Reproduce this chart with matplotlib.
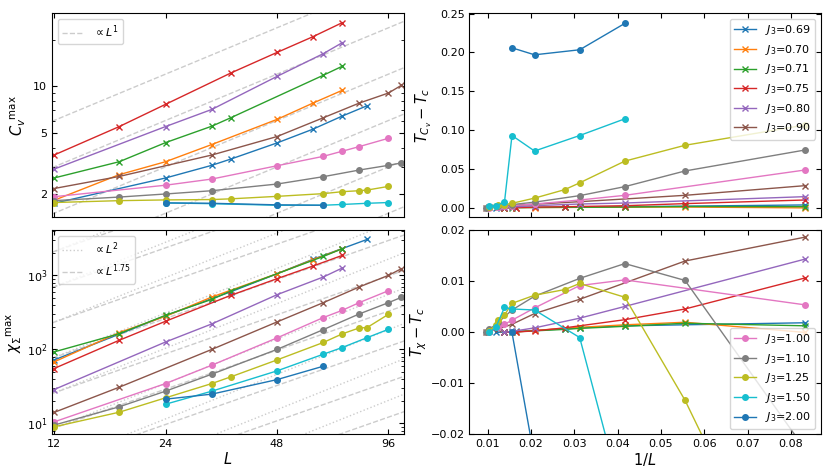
import numpy as np
import matplotlib
matplotlib.use('Agg')
import matplotlib.pyplot as plt
from matplotlib.ticker import NullLocator, FixedLocator, FixedFormatter

plt.rcParams['font.size'] = 8
plt.rcParams['mathtext.fontset'] = 'dejavusans'

# J3 couplings, colours and markers of each series
J3 = [0.69, 0.70, 0.71, 0.75, 0.80, 0.90, 1.00, 1.10, 1.25, 1.50, 2.00]
colors = ['C0', 'C1', 'C2', 'C3', 'C4', 'C5', 'C6', 'C7', 'C8', 'C9', 'C0']
markers = ['x'] * 6 + ['o'] * 5

# system sizes simulated for each J3
L_sizes = [
    [12, 24, 32, 36, 48, 60, 72, 84],
    [12, 18, 24, 32, 48, 60, 72],
    [12, 18, 24, 32, 36, 64, 72],
    [12, 18, 24, 36, 48, 60, 72],
    [12, 24, 32, 48, 64, 72],
    [12, 18, 32, 48, 64, 80, 96, 104],
    [12, 24, 32, 48, 64, 72, 80, 96],
    [12, 18, 24, 32, 48, 64, 80, 96, 104],
    [12, 18, 24, 32, 36, 48, 64, 72, 80, 84, 96],
    [24, 32, 48, 64, 72, 84, 96],
    [24, 32, 48, 64],
]

# peak of specific heat
cv_max = [
    [1.74, 2.54, 3.07, 3.37, 4.29, 5.27, 6.41, 7.48],
    [1.82, 2.67, 3.24, 4.19, 6.10, 7.78, 9.42],
    [2.54, 3.24, 4.31, 5.51, 6.25, 11.8, 13.5],
    [3.58, 5.48, 7.64, 12.2, 16.6, 21.0, 25.9],
    [2.90, 5.48, 7.08, 11.6, 16.3, 19.2],
    [2.17, 2.60, 3.58, 4.72, 6.25, 7.78, 9.05, 10.15],
    [1.92, 2.28, 2.50, 3.05, 3.51, 3.79, 4.06, 4.60],
    [1.81, 1.91, 2.00, 2.10, 2.32, 2.59, 2.86, 3.07, 3.18],
    [1.76, 1.81, 1.83, 1.84, 1.86, 1.93, 2.01, 2.07, 2.10, 2.12, 2.24],
    [1.75, 1.73, 1.69, 1.69, 1.71, 1.74, 1.76],
    [1.75, 1.74, 1.70, 1.69],
]

# peak of susceptibility
chi_max = [
    [72, 285, 485, 600, 1050, 1650, 2300, 3055],
    [67.8, 169, 280, 510, 1053, 1626, 2290],
    [92.5, 163, 289, 474, 615, 1800, 2290],
    [55.2, 133, 240, 537, 902, 1336, 1860],
    [28.7, 126, 221, 548, 950, 1256],
    [14.1, 30.9, 100, 235, 428, 697, 1000, 1230],
    [10.5, 34.6, 61.2, 143, 269, 337, 428, 621],
    [9.5, 16.8, 27.3, 46.3, 100, 185, 301, 428, 505],
    [9.0, 14.2, 22.2, 34.6, 42.6, 72.1, 124, 162, 195, 197, 298],
    [18.2, 27.3, 51.3, 86.1, 106, 144, 187],
    [21.3, 24.9, 39.1, 59.3],
]

# T_Cv - T_c
t_cv = [
    [0.0035, 0.0012, 0.0008, 0.0006, 0.0004, 0.0002, 0.0001, 0.0],
    [-0.0003, 0.0008, 0.0006, 0.0004, 0.0002, 0.0001, 0.0],
    [0.0013, 0.0015, 0.0008, 0.0005, 0.0004, 0.0001, 0.0],
    [0.0099, 0.0052, 0.0025, 0.0012, 0.0006, 0.0002, 0.0],
    [0.0142, 0.0060, 0.0047, 0.0026, 0.0008, 0.0003],
    [0.0284, 0.0159, 0.0077, 0.0045, 0.0026, 0.0012, 0.0005, 0.0],
    [0.0486, 0.0159, 0.0099, 0.0047, 0.0025, 0.0018, 0.0012, 0.0002],
    [0.0744, 0.0473, 0.0271, 0.0155, 0.0071, 0.0039, 0.0018, 0.0008, 0.0],
    [0.1066, 0.0804, 0.0600, 0.0320, 0.0232, 0.0123, 0.0056, 0.0040, 0.0028, 0.0022, 0.0012],
    [0.1145, 0.0930, 0.0730, 0.0930, 0.0069, 0.0026, 0.0017],
    [0.2375, 0.2035, 0.1970, 0.2060],
]

# T_chi - T_c
t_chi = [
    [0.0019, 0.0013, 0.0009, 0.0007, 0.0004, 0.0002, 0.0001, 0.0],
    [0.0, 0.0020, 0.0015, 0.0010, 0.0004, 0.0001, 0.0],
    [0.0013, 0.0018, 0.0012, 0.0008, 0.0006, 0.0001, 0.0],
    [0.0107, 0.0046, 0.0025, 0.0009, 0.0003, 0.0001, 0.0],
    [0.0144, 0.0051, 0.0028, 0.0009, 0.0002, 0.0],
    [0.0187, 0.0140, 0.0065, 0.0037, 0.0016, 0.0007, 0.0002, 0.0],
    [0.0054, 0.0103, 0.0092, 0.0048, 0.0024, 0.0016, 0.0010, 0.0001],
    [-0.023, 0.0102, 0.0135, 0.0106, 0.0071, 0.0044, 0.0020, 0.0006, 0.0],
    [-0.062, -0.0133, 0.0069, 0.0096, 0.0084, 0.0073, 0.0057, 0.0034, 0.0025, 0.0015, 0.0003],
    [-0.0345, -0.0010, 0.0044, 0.0046, 0.0049, 0.0010, 0.0],
    [-0.060, -0.045, -0.0248, 0.0],
]

# guide-line prefactors
cv_guides = [0.5 / 2**k for k in range(8)]
chi_guides = [700 * 3.0**k for k in range(-7, 3)]

fig, axes = plt.subplots(2, 2, figsize=(8.3, 4.75), dpi=100)
plt.subplots_adjust(left=0.0627, right=0.989, bottom=0.0853, top=0.972,
                    wspace=0.1875, hspace=0.064)
ax_cv, ax_tcv = axes[0]
ax_chi, ax_tchi = axes[1]

Lg = np.linspace(10, 120, 200)
guide_col = '0.8'
lab_fs = 10.5

# C_v^max vs L
for i, c in enumerate(cv_guides):
    ax_cv.plot(Lg, c * Lg, '--', color=guide_col, lw=1, zorder=0,
               label=r'$\propto L^1$' if i == 0 else None)
for i in range(len(J3)):
    ax_cv.plot(L_sizes[i], cv_max[i], marker=markers[i], color=colors[i],
               lw=1, ms=4)
ax_cv.set_xscale('log')
ax_cv.set_yscale('log')
ax_cv.set_xlim(11.85, 105.4)
ax_cv.set_ylim(1.41, 29.8)
ax_cv.yaxis.set_major_locator(FixedLocator([2, 5, 10]))
ax_cv.yaxis.set_major_formatter(FixedFormatter(['2', '5', '10']))
ax_cv.set_ylabel(r'$C_v{}^{\rm max}$', fontsize=lab_fs)
ax_cv.legend(loc='upper left')

# chi^max vs L
for i, c in enumerate(chi_guides):
    ax_chi.plot(Lg, c * (Lg / 12.0)**2, ':', color=guide_col, lw=1, zorder=0,
                label=r'$\propto L^2$' if i == 0 else None)
    ax_chi.plot(Lg, c * (Lg / 12.0)**1.75, '--', color=guide_col, lw=1, zorder=0,
                label=r'$\propto L^{1.75}$' if i == 0 else None)
for i in range(len(J3)):
    ax_chi.plot(L_sizes[i], chi_max[i], marker=markers[i], color=colors[i],
                lw=1, ms=4)
ax_chi.set_xscale('log')
ax_chi.set_yscale('log')
ax_chi.set_xlim(11.85, 105.4)
ax_chi.set_ylim(7.1, 4045)
ax_chi.set_ylabel(r'$\chi_\Sigma{}^{\rm max}$', fontsize=lab_fs, labelpad=2)
ax_chi.set_xlabel(r'$L$', fontsize=lab_fs, labelpad=1)
ax_chi.legend(loc='upper left')

for ax in (ax_cv, ax_chi):
    ax.xaxis.set_major_locator(FixedLocator([12, 24, 48, 96]))
    ax.xaxis.set_major_formatter(FixedFormatter(['12', '24', '48', '96']))
    ax.xaxis.set_minor_locator(NullLocator())
ax_cv.set_xticklabels([])

# peak temperatures vs 1/L
for i in range(len(J3)):
    inv_L = 1.0 / np.array(L_sizes[i])
    lab = r'$J_3$=%.2f' % J3[i]
    ax_tcv.plot(inv_L, t_cv[i], marker=markers[i], color=colors[i], lw=1, ms=4,
                label=lab if i < 6 else None)
    ax_tchi.plot(inv_L, t_chi[i], marker=markers[i], color=colors[i], lw=1, ms=4,
                 label=lab if i >= 6 else None)

for ax in (ax_tcv, ax_tchi):
    ax.set_xlim(0.0058, 0.0869)
    ax.set_xticks([0.01, 0.02, 0.03, 0.04, 0.05, 0.06, 0.07, 0.08])
ax_tcv.set_xticklabels([])
ax_tcv.set_ylim(-0.0125, 0.2505)
ax_tcv.set_yticks([0.0, 0.05, 0.10, 0.15, 0.20, 0.25])
ax_tchi.set_ylim(-0.02, 0.02)
ax_tchi.set_yticks([-0.02, -0.01, 0.0, 0.01, 0.02])
ax_tcv.set_ylabel(r'$T_{C_v}-T_c$', fontsize=lab_fs)
ax_tchi.set_ylabel(r'$T_\chi-T_c$', fontsize=lab_fs, labelpad=1)
ax_tchi.set_xlabel(r'$1/L$', fontsize=lab_fs, labelpad=1)
ax_tcv.legend(loc='upper right')
ax_tchi.legend(loc='lower right')

for ax in axes.flat:
    ax.tick_params(which='both', direction='in', top=True, right=True)

plt.savefig('out.png', dpi=100)
